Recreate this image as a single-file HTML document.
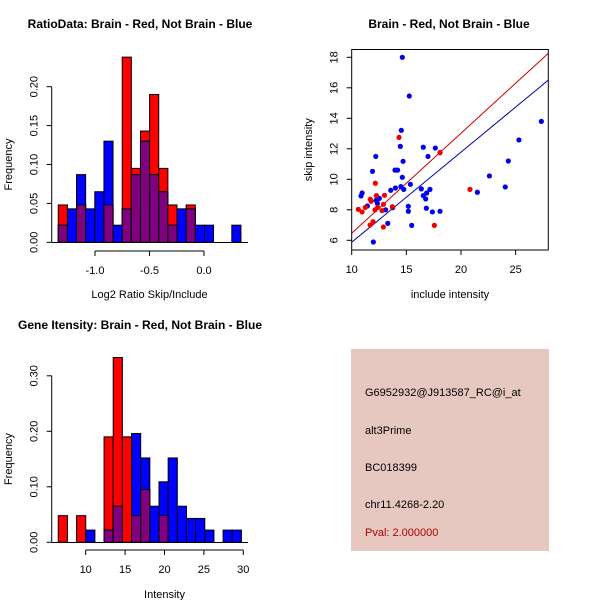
<!DOCTYPE html>
<html><head><meta charset="utf-8"><style>
body{margin:0;background:#fff}
svg{display:block;font-family:"Liberation Sans",sans-serif}
</style></head><body>
<svg id="s" width="600" height="600" viewBox="0 0 600 600" xmlns="http://www.w3.org/2000/svg">
<rect width="600" height="600" fill="#fff"/>
<text x="140" y="28" text-anchor="middle" font-weight="bold" font-size="12">RatioData: Brain - Red, Not Brain - Blue</text>
<text x="449" y="28" text-anchor="middle" font-weight="bold" font-size="12">Brain - Red, Not Brain - Blue</text>
<text x="140" y="329" text-anchor="middle" font-weight="bold" font-size="12">Gene Itensity: Brain - Red, Not Brain - Blue</text>
<g>
<rect x="351" y="349" width="198" height="202" fill="#e6c8c0"/>
<text x="365" y="396" font-size="11">G6952932@J913587_RC@i_at</text>
<text x="365" y="434" font-size="11">alt3Prime</text>
<text x="365" y="471" font-size="11">BC018399</text>
<text x="365" y="508" font-size="11">chr11.4268-2.20</text>
<text x="365" y="536" font-size="11" fill="#b00000">Pval: 2.000000</text>
</g>
</svg>
<script>
// Ratio histogram data
const ratioStart = -1.337, ratioWidth = 0.0838;
const ratioRed  = [0.048,0,0.048,0,0,0.048,0,0.238,0.095,0.143,0.190,0.095,0.048,0,0.048,0,0,0,0,0];
const ratioBlue = [0.022,0.043,0.087,0.043,0.065,0.130,0.022,0.043,0.087,0.130,0.087,0.065,0.022,0.043,0.043,0.022,0.022,0,0,0.022];
const ratioXTicks = [-1.0,-0.5,0.0];
const ratioXTickLabels = ["-1.0","-0.5","0.0"];
const ratioYTicks = [0,0.05,0.10,0.15,0.20];
const ratioYTickLabels = ["0.00","0.05","0.10","0.15","0.20"];
// Intensity histogram data
const intStart = 6.52, intWidth = 1.162;
const intRed  = [0.048,0,0.048,0,0,0.190,0.333,0.190,0.048,0.095,0,0.048,0,0,0,0,0,0,0,0];
const intBlue = [0,0,0,0.022,0,0.022,0.065,0,0.196,0.152,0.065,0.109,0.152,0.065,0.043,0.043,0.022,0,0.022,0.022];
const intXTicks = [10,15,20,25,30];
const intXTickLabels = ["10","15","20","25","30"];
const intYTicks = [0,0.10,0.20,0.30];
const intYTickLabels = ["0.00","0.10","0.20","0.30"];
// Scatter data
const blueX = [14.63,15.27,14.54,14.45,14.7,12.2,11.9,13.96,14.2,14.63,15.37,14.5,14.76,14.0,13.57,10.95,10.85,12.53,12.23,11.43,12.35,13.75,13.1,15.18,15.18,13.3,15.49,11.98,16.37,17.16,16.55,16.77,16.86,16.83,17.38,18.08,16.55,17.65,16.98,18.08,21.5,22.6,24.05,24.33,25.3,27.35];
const blueY = [18.0,15.46,13.21,12.16,11.18,11.5,10.52,10.6,10.6,10.13,9.67,9.52,9.34,9.43,9.28,9.1,8.91,8.75,8.62,8.25,8.43,8.14,8.0,8.23,7.9,7.11,6.98,5.89,9.37,9.34,8.93,8.71,9.1,8.1,7.86,7.9,12.1,12.05,11.5,11.75,9.15,10.22,9.5,11.2,12.58,13.8];
const redX = [14.33,12.16,11.7,11.77,12.26,13.0,12.38,12.9,12.77,12.13,11.25,10.6,10.95,11.95,11.68,12.9,13.72,17.56,20.82,18.08];
const redY = [12.75,9.74,8.69,8.56,8.93,8.95,8.16,8.36,7.95,8.0,8.16,8.03,7.86,7.22,7.0,6.87,8.2,6.98,9.34,11.75];
const redFit = [-0.1, 0.656];
const blueFit = [-0.04, 0.591];
const scXTicks = [10,15,20,25];
const scYTicks = [6,8,10,12,14,16,18];

const NS="http://www.w3.org/2000/svg";
const svg=document.getElementById('s');
function mk(tag,attrs,parent){const e=document.createElementNS(NS,tag);for(const k in attrs)e.setAttribute(k,attrs[k]);(parent||svg).appendChild(e);return e;}

function hist(g,start,w,red,blue,xs,ys){
  for(let i=0;i<red.length;i++){
    const x0=xs(start+i*w), x1=xs(start+(i+1)*w);
    const r=red[i], b=blue[i];
    if(r>0){const e=mk('rect',{x:x0,y:ys(r),width:x1-x0,height:ys(0)-ys(r),fill:'#ff0000',stroke:'#000','stroke-width':1},g);
      
      }
    if(b>0){const e=mk('rect',{x:x0,y:ys(b),width:x1-x0,height:ys(0)-ys(b),fill:'#0000ff',stroke:'#000','stroke-width':1},g);
      
      }
    const m=Math.min(r,b);
    if(m>0){const e=mk('rect',{x:x0,y:ys(m),width:x1-x0,height:ys(0)-ys(m),fill:'#800080',stroke:'#000','stroke-width':1},g);
      
      }
  }
}
function yaxis(g,x,ticks,labels,ys,title,tx){
  mk('line',{x1:x,x2:x,y1:ys(ticks[0]),y2:ys(ticks[ticks.length-1]),stroke:'#000'},g);
  ticks.forEach((t,i)=>{
    mk('line',{x1:x-5,x2:x,y1:ys(t),y2:ys(t),stroke:'#000'},g);
    const e=mk('text',{x:x-14,y:ys(t),'font-size':11,'text-anchor':'middle',transform:`rotate(-90 ${x-14} ${ys(t)})`},g);
    e.textContent=labels[i];
    
    
  });
  const cy=(ys(ticks[0])+ys(ticks[ticks.length-1]))/2;
  const t=mk('text',{x:tx,y:cy,'font-size':11,'text-anchor':'middle',transform:`rotate(-90 ${tx} ${cy})`},g);
  t.textContent=title;
  
  
}
function xaxis(g,y,ticks,labels,xs,title,ty){
  mk('line',{x1:xs(ticks[0]),x2:xs(ticks[ticks.length-1]),y1:y,y2:y,stroke:'#000'},g);
  ticks.forEach((t,i)=>{
    mk('line',{x1:xs(t),x2:xs(t),y1:y,y2:y+5,stroke:'#000'},g);
    const e=mk('text',{x:xs(t),y:y+23,'font-size':11,'text-anchor':'middle'},g);
    e.textContent=labels[i];
    
    
  });
  const t=mk('text',{x:(xs(ticks[0])+xs(ticks[ticks.length-1]))/2,y:ty,'font-size':11,'text-anchor':'middle'},g);
  t.textContent=title;
  
  
}

// Ratio histogram
{
  const g=mk('g',{});
  
  
  const xs=v=>95+(v+1)*109, ys=v=>242.3-v*778;
  hist(g,ratioStart,ratioWidth,ratioRed,ratioBlue,xs,ys);
  mk('line',{x1:52,x2:248,y1:242.5,y2:242.5,stroke:'#000'},g);
  yaxis(g,51.7,ratioYTicks,ratioYTickLabels,ys,'Frequency',12);
  xaxis(g,251,ratioXTicks,ratioXTickLabels,xs,'Log2 Ratio Skip/Include',298);
}
// Intensity histogram
{
  const g=mk('g',{});
  
  
  const xs=v=>85.7+(v-10)*7.88, ys=v=>542.3-v*555;
  hist(g,intStart,intWidth,intRed,intBlue,xs,ys);
  mk('line',{x1:52,x2:248,y1:542.5,y2:542.5,stroke:'#000'},g);
  yaxis(g,51.7,intYTicks,intYTickLabels,ys,'Frequency',12);
  xaxis(g,550,intXTicks,intXTickLabels,xs,'Intensity',598);
}
// Scatter
{
  const g=mk('g',{});
  
  
  const xs=v=>351.7+(v-10)*10.93, ys=v=>240.3-(v-6)*15.25;
  const L=351.7,R=548.3,T=49.5,B=250;
  const cpe=mk('clipPath',{id:'cp'},g);
  mk('rect',{x:L,y:T,width:R-L,height:B-T},cpe);
  const x0=(L-351.7)/10.93+10, x1=(R-351.7)/10.93+10;
  [[redFit,'#cc0000','red-fit-line'],[blueFit,'#0000aa','blue-fit-line']].forEach(([f,c,n])=>{
    const e=mk('line',{x1:xs(x0),y1:ys(f[0]+f[1]*x0),x2:xs(x1),y2:ys(f[0]+f[1]*x1),stroke:c,'clip-path':'url(#cp)'},g);
    
    
  });
  blueX.forEach((x,i)=>{const e=mk('circle',{cx:xs(x),cy:ys(blueY[i]),r:2.6,fill:'#0000ee'},g);
    
    });
  redX.forEach((x,i)=>{const e=mk('circle',{cx:xs(x),cy:ys(redY[i]),r:2.6,fill:'#ee0000'},g);
    
    });
  mk('rect',{x:L,y:T,width:R-L,height:B-T,fill:'none',stroke:'#000'},g);
  scXTicks.forEach(t=>{
    mk('line',{x1:xs(t),x2:xs(t),y1:B,y2:B+5,stroke:'#000'},g);
    const e=mk('text',{x:xs(t),y:B+23,'font-size':11,'text-anchor':'middle'},g);
    e.textContent=String(t);
    
    
  });
  scYTicks.forEach(t=>{
    mk('line',{x1:L-5,x2:L,y1:ys(t),y2:ys(t),stroke:'#000'},g);
    const e=mk('text',{x:L-14,y:ys(t),'font-size':11,'text-anchor':'middle',transform:`rotate(-90 ${L-14} ${ys(t)})`},g);
    e.textContent=String(t);
    
    
  });
  const a=mk('text',{x:(L+R)/2,y:298,'font-size':11,'text-anchor':'middle'},g);
  a.textContent='include intensity';
  
  
  const cy=(T+B)/2;
  const b=mk('text',{x:312,y:cy,'font-size':11,'text-anchor':'middle',transform:`rotate(-90 312 ${cy})`},g);
  b.textContent='skip intensity';
  
  
}
</script>
</body></html>
